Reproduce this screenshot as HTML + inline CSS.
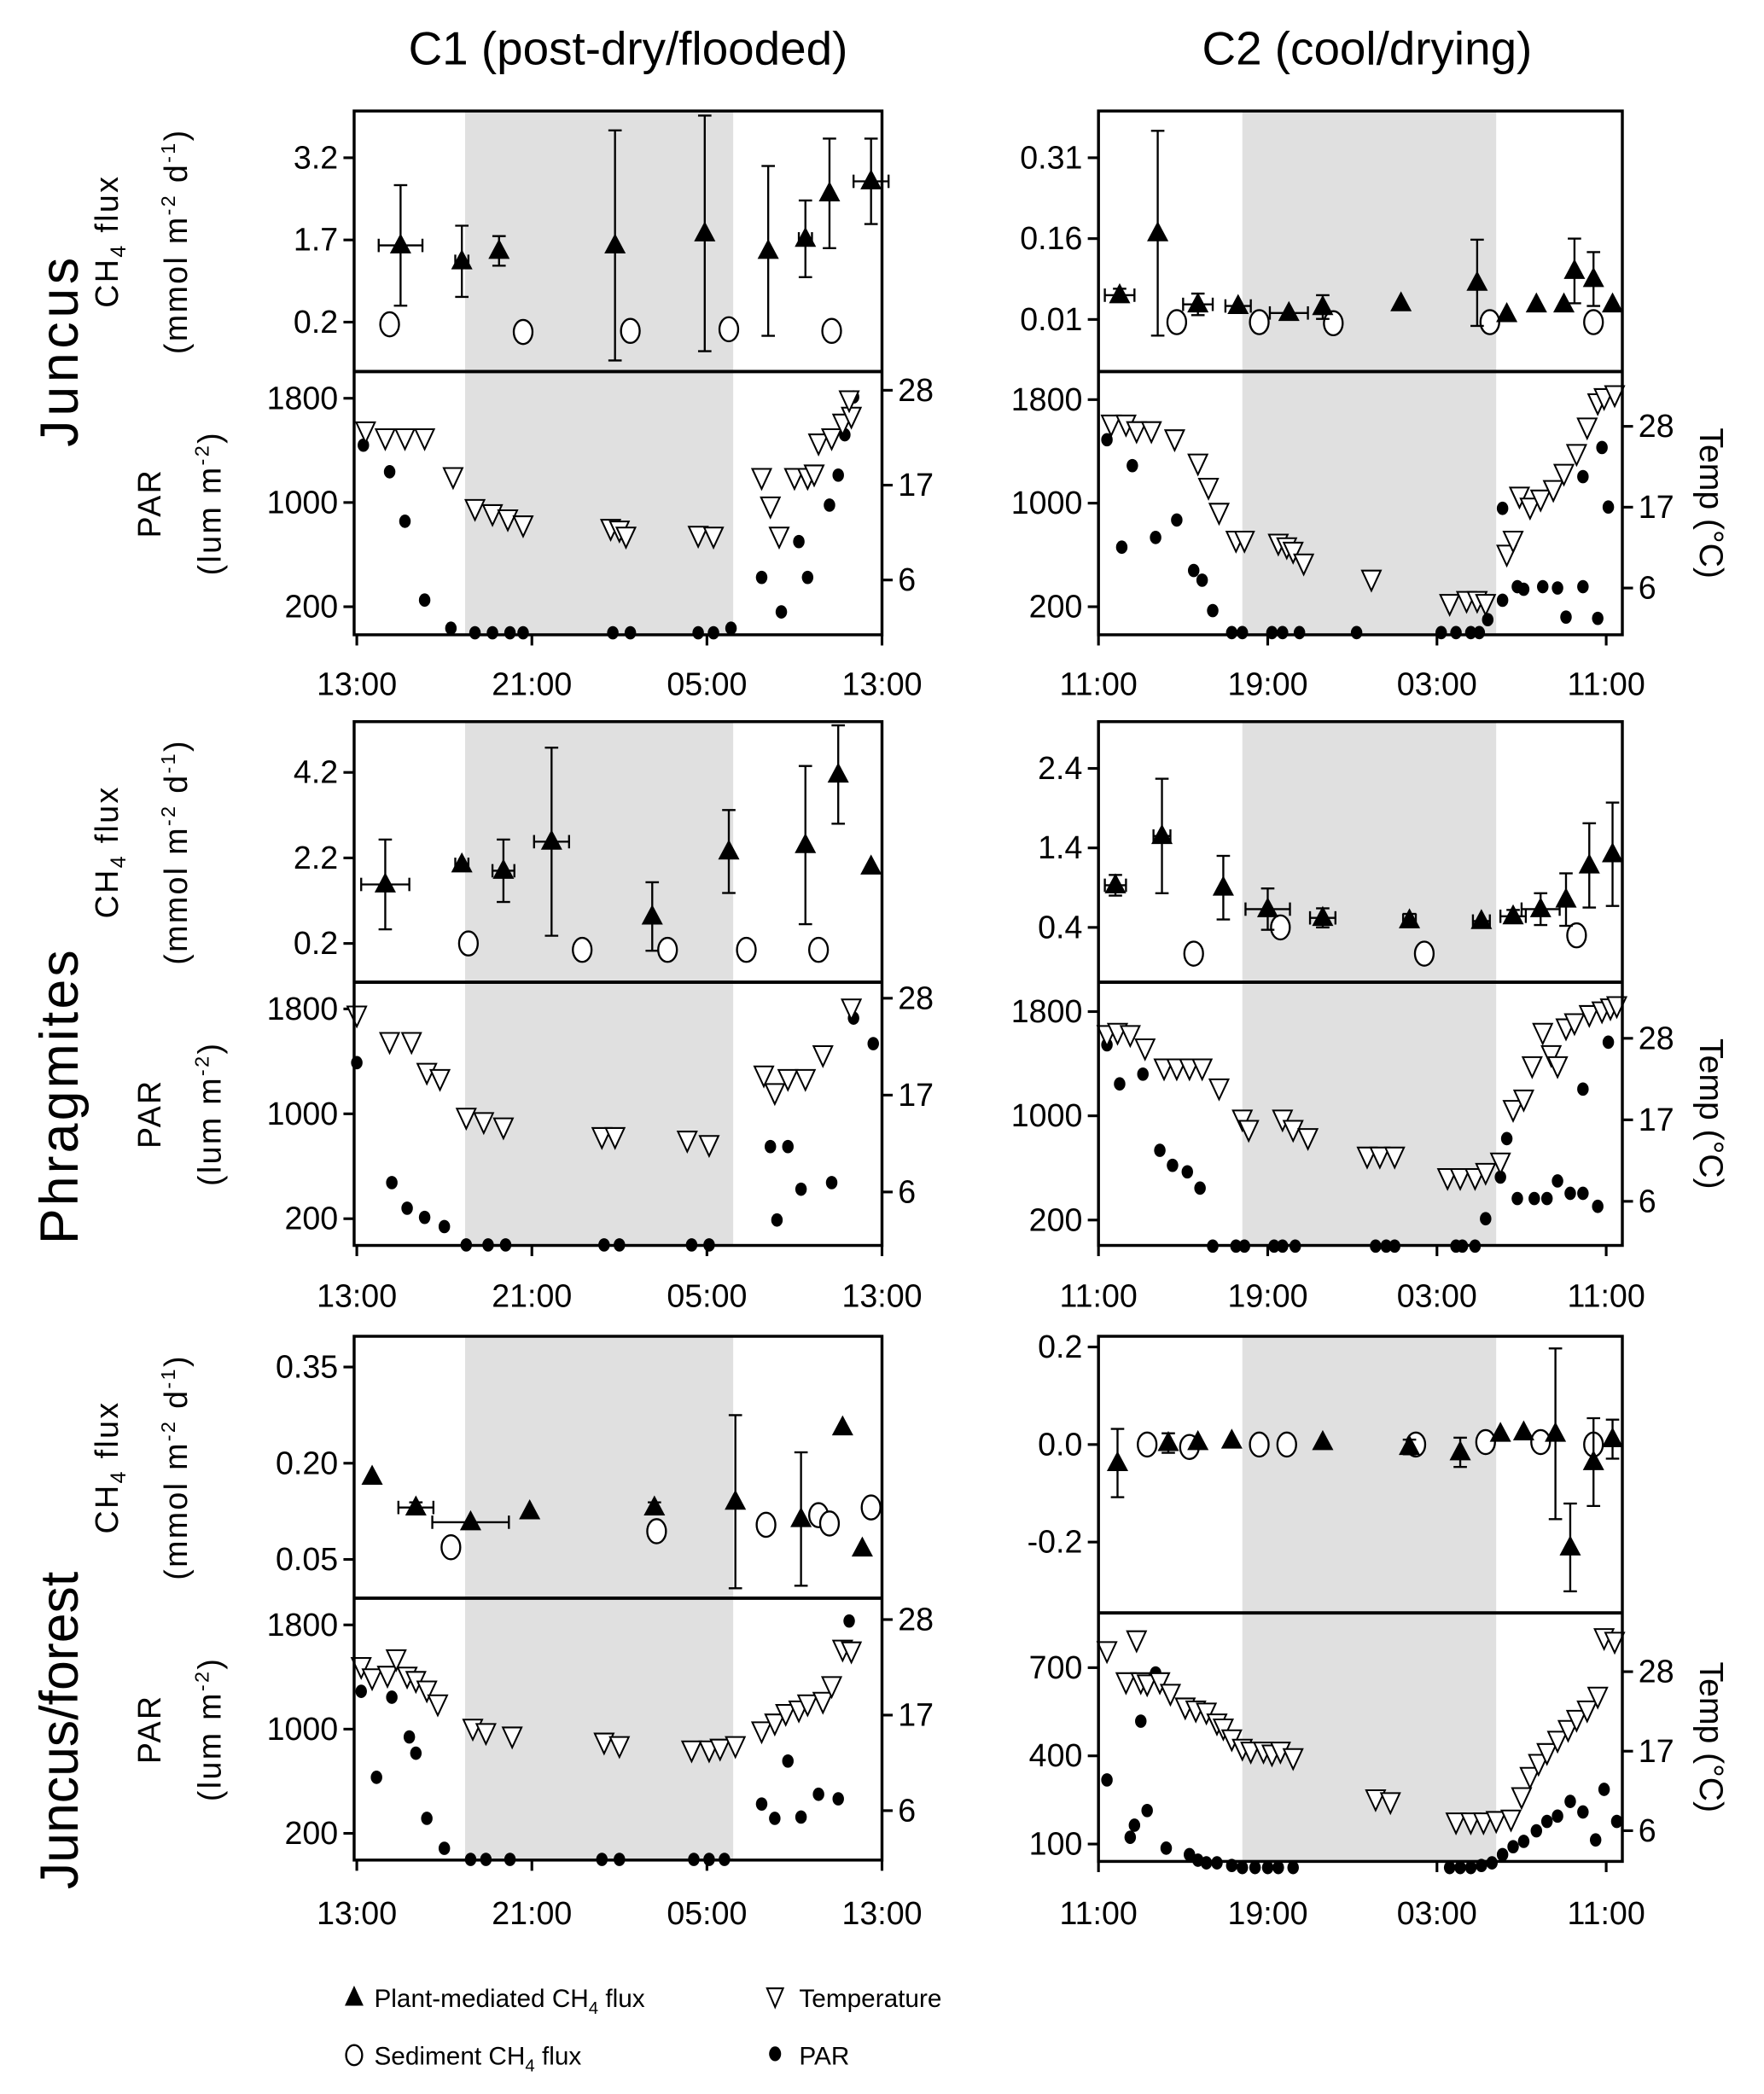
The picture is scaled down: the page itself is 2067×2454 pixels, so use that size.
<!DOCTYPE html>
<html><head><meta charset="utf-8"><style>
html,body{margin:0;padding:0;background:#fff;}
svg{display:block;font-family:"Liberation Sans",Arial,sans-serif;}
</style></head><body>
<svg id="chart" xmlns="http://www.w3.org/2000/svg" width="2067" height="2454" viewBox="0 0 1320 1567">
<rect x="0" y="0" width="1320" height="1567" fill="#fff"/>
<text x="470" y="48" font-size="35" text-anchor="middle">C1 (post-dry/flooded)</text>
<text x="1023" y="48" font-size="35" text-anchor="middle">C2 (cool/drying)</text>
<text transform="translate(58,262) rotate(-90)" font-size="40" letter-spacing="3" text-anchor="middle">Juncus</text>
<text transform="translate(58,820) rotate(-90)" font-size="40" letter-spacing="2" text-anchor="middle">Phragmites</text>
<text transform="translate(58,1295) rotate(-90)" font-size="40" text-anchor="middle">Juncus/forest</text>
<g id="legend">
<g><polygon points="265,1486 258,1501 272,1501" fill="#000"/><text x="280" y="1502" font-size="19">Plant-mediated CH<tspan font-size="13" dy="5">4</tspan><tspan dy="-5"> flux</tspan></text></g>
<g><ellipse cx="265" cy="1538" rx="6" ry="7.5" fill="#fff" stroke="#000" stroke-width="1.5"/><text x="280" y="1545" font-size="19">Sediment CH<tspan font-size="13" dy="5">4</tspan><tspan dy="-5"> flux</tspan></text></g>
<g><polygon points="580,1502 574,1488 586,1488" fill="#fff" stroke="#000" stroke-width="1.3"/><text x="598" y="1502" font-size="19">Temperature</text></g>
<g><ellipse cx="580" cy="1537" rx="4.5" ry="5.5" fill="#000"/><text x="598" y="1545" font-size="19">PAR</text></g>
</g>
</svg>
<script>
// ===== Data (hours since panel start, values in data units) =====
// Panel A: C1 Juncus
const aFluxH=[2.0,4.8,6.5,11.8,15.9,18.8,20.5,21.6,23.5];
const aFluxV=[1.6,1.31,1.5,1.6,1.82,1.5,1.72,2.55,2.77];
const aFluxE=[1.1,0.65,0.27,2.1,2.15,1.55,0.7,1.0,0.78];
const aFluxHE=[1.0,0.3,0,0,0,0,0.3,0,0.8];
const aSedH=[1.5,7.6,12.5,17.0,21.7];
const aSedV=[0.16,0.02,0.04,0.07,0.04];
const aParH=[0.3,1.5,2.2,3.1,4.3,5.4,6.2,7.0,7.6,11.7,12.5,15.6,16.3,17.1,18.5,19.4,20.2,20.6,21.6,22.0,22.3,22.7];
const aParV=[1440,1236,856,251,35,0,0,0,0,0,0,0,0,35,425,160,700,425,980,1210,1520,1810];
const aTempH=[0.4,1.3,2.2,3.1,4.4,5.4,6.2,6.9,7.6,11.6,12.0,12.3,15.6,16.3,18.5,18.9,19.3,20.0,20.6,20.9,21.1,21.7,22.2,22.6,22.5];
const aTempV=[23.2,22.4,22.4,22.4,17.9,14.2,13.6,13.0,12.3,11.9,11.7,11.0,11.1,11.0,17.8,14.5,11.0,17.8,17.8,18.2,21.8,22.4,24.1,24.9,26.8];
// Panel B: C2 Juncus
const bFluxH=[1.0,2.8,4.7,6.6,9.0,10.6,14.3,17.9,19.3,20.7,22.0,22.5,23.4,24.3];
const bFluxV=[0.055,0.17,0.038,0.035,0.022,0.033,0.04,0.078,0.02,0.038,0.038,0.1,0.085,0.038];
const bFluxE=[0.012,0.19,0.02,0,0,0.022,0,0.08,0,0,0,0.06,0.05,0];
const bFluxHE=[0.7,0,0.7,0.6,0.9,0,0,0,0,0,0,0,0,0];
const bSedH=[3.7,7.6,11.1,18.5,23.4];
const bSedV=[0.005,0.005,0.003,0.005,0.005];
const bParH=[0.4,1.1,1.6,2.7,3.7,4.5,4.9,5.4,6.3,6.8,8.2,8.7,9.5,12.2,16.2,16.9,17.6,18.0,18.4,19.1,19.1,19.8,20.1,21.0,21.7,22.1,22.9,23.6,22.9,24.1,23.8];
const bParV=[1490,660,1290,735,870,480,405,170,0,0,0,0,0,0,0,0,0,0,100,960,250,355,335,355,345,120,355,110,1205,970,1430];
const bTempH=[0.6,1.3,1.8,2.5,3.6,4.7,5.2,5.7,6.5,6.9,8.5,8.9,9.2,9.7,12.9,16.6,17.4,17.9,18.3,19.3,19.6,19.9,20.4,20.9,21.5,22.0,22.6,23.1,23.6,23.9,24.4];
const bTempV=[28.2,28.2,27.3,27.3,26.2,22.9,19.6,16.2,12.4,12.4,12.0,11.5,10.9,9.3,7.1,3.8,4.2,4.2,3.8,10.5,12.4,18.4,16.9,18.0,19.3,21.5,24.2,27.8,31.1,31.8,32.2];
// Panel C: C1 Phragmites
const cFluxH=[1.3,4.8,6.7,8.9,13.5,17.0,20.5,22.0,23.5];
const cFluxV=[1.58,2.05,1.9,2.58,0.83,2.35,2.5,4.15,2.0];
const cFluxE=[1.05,0,0.73,2.2,0.8,0.97,1.85,1.15,0];
const cFluxHE=[1.1,0.3,0.5,0.8,0,0,0,0,0];
const cSedH=[5.1,10.3,14.2,17.8,21.1];
const cSedV=[0.2,0.05,0.05,0.05,0.05];
const cParH=[0.0,1.6,2.3,3.1,4.0,5.0,6.0,6.8,11.3,12.0,15.3,16.1,18.9,19.7,19.2,20.3,21.7,22.7,23.6];
const cParV=[1390,475,280,210,140,0,0,0,0,0,0,0,750,750,190,425,475,1730,1535];
const cTempH=[0.0,1.5,2.5,3.2,3.8,5.0,5.8,6.7,11.2,11.8,15.1,16.1,18.6,19.1,19.7,20.5,21.3,22.6];
const cTempV=[26.0,23.0,23.0,19.5,18.8,14.4,13.9,13.3,12.2,12.2,11.8,11.3,19.2,17.2,18.8,18.8,21.5,26.8];
// Panel D: C2 Phragmites
const dFluxH=[0.8,3.0,5.9,8.0,10.6,14.7,18.1,19.6,20.9,22.1,23.2,24.3];
const dFluxV=[0.93,1.55,0.9,0.63,0.52,0.49,0.48,0.54,0.63,0.75,1.18,1.32];
const dFluxE=[0.13,0.72,0.4,0.26,0.12,0.08,0,0.08,0.2,0.33,0.53,0.65];
const dFluxHE=[0.5,0.4,0,1.05,0.6,0.3,0.4,0.6,0.9,0,0,0];
const dSedH=[4.5,8.6,15.4,22.6];
const dSedV=[0.07,0.4,0.07,0.3];
const dParH=[0.4,1.0,2.1,2.9,3.5,4.2,4.8,5.4,6.5,6.9,8.3,8.7,9.3,13.1,13.6,14.0,16.9,17.2,17.8,18.3,19.0,19.3,19.8,20.6,21.2,21.7,22.3,22.9,23.6,22.9,24.1];
const dParV=[1545,1245,1320,735,620,570,445,0,0,0,0,0,0,0,0,0,0,0,0,210,530,825,365,365,365,500,405,405,305,1205,1565];
const dTempH=[0.4,0.9,1.5,2.2,3.1,3.7,4.3,4.9,5.7,6.8,7.1,8.7,9.2,9.9,12.7,13.3,14.0,16.5,17.1,17.8,18.3,19.0,19.6,20.1,20.5,21.0,21.4,21.7,22.1,22.5,23.2,23.8,24.2,24.5];
const dTempV=[28.4,28.7,28.4,26.6,23.9,23.9,23.9,23.9,21.2,17.0,15.6,17.0,15.6,14.5,12.0,12.0,12.0,9.1,9.1,9.1,9.8,11.2,18.3,19.7,24.2,28.7,25.7,24.2,29.3,30.0,31.1,31.6,32.0,32.3];
// Panel E: C1 Juncus/forest
const eFluxH=[0.7,2.7,5.2,7.9,13.6,17.3,20.3,22.2,23.1];
const eFluxV=[0.179,0.131,0.108,0.125,0.131,0.14,0.113,0.256,0.067];
const eFluxE=[0,0.008,0,0,0.008,0.135,0.104,0,0];
const eFluxHE=[0,0.8,1.75,0,0,0,0,0,0];
const eSedH=[4.3,13.7,18.7,21.1,21.6,23.5];
const eSedV=[0.069,0.094,0.104,0.119,0.106,0.131];
const eParH=[0.2,0.9,1.6,2.4,2.7,3.2,4.0,5.2,5.9,7.0,11.2,12.0,15.4,16.1,16.8,18.5,19.1,19.7,20.3,21.1,22.0,22.5];
const eParV=[1290,630,1245,940,815,315,85,0,0,0,0,0,0,0,0,425,315,755,325,500,465,1830];
const eTempH=[0.2,0.7,1.4,1.8,2.3,2.7,3.2,3.7,5.3,5.9,7.1,11.3,12.0,15.3,16.1,16.6,17.3,18.5,19.1,19.6,20.2,20.6,21.3,21.7,22.2,22.6];
const eTempV=[22.5,21.2,21.5,23.4,21.4,20.9,19.8,18.2,15.4,14.9,14.5,13.8,13.4,12.9,12.9,13.1,13.4,15.1,16.0,17.1,17.5,18.2,18.5,20.3,24.5,24.3];
// Panel F: C2 Juncus/forest
const fFluxH=[0.9,3.3,4.7,6.3,10.6,14.7,17.1,19.0,20.1,21.6,22.3,23.4,24.3];
const fFluxV=[-0.038,0.003,0.005,0.008,0.005,-0.005,-0.016,0.022,0.025,0.022,-0.211,-0.036,0.011];
const fFluxE=[0.07,0.02,0,0,0,0.015,0.03,0,0,0.175,0.09,0.09,0.04];
const fFluxHE=[0,0,0,0,0,0,0,0,0,0,0,0,0];
const fSedH=[2.3,4.3,7.6,8.9,15.0,18.3,20.9,23.4];
const fSedV=[0,-0.005,0,0,0,0.005,0.005,0];
const fParH=[0.4,1.5,1.7,2.0,2.3,2.7,3.2,4.3,4.7,5.1,5.6,6.3,6.8,7.4,8.0,8.5,9.2,16.6,17.1,17.6,18.1,18.6,19.1,19.6,20.1,20.7,21.2,21.7,22.3,22.9,23.5,23.9,24.5];
const fParV=[318,123,164,518,214,682,86,64,45,36,36,27,20,20,20,20,20,20,20,20,27,36,64,91,109,145,177,195,245,209,114,286,177];
const fTempH=[0.4,1.8,1.3,2.0,2.3,2.9,3.4,4.1,4.6,5.1,5.6,5.9,6.3,6.8,7.2,7.8,8.2,8.6,9.2,13.1,13.8,16.9,17.6,18.2,18.8,19.5,20.0,20.4,20.8,21.2,21.7,22.2,22.6,23.1,23.6,23.9,24.4];
const fTempV=[30.8,32.3,26.5,26.5,26.2,26.5,24.9,23.0,22.6,22.3,20.8,20.1,18.6,17.3,16.9,16.9,16.5,16.9,16.0,10.3,9.9,7.1,7.1,7.1,7.3,7.5,10.6,13.4,15.2,16.7,18.4,19.9,21.3,22.6,24.5,32.6,32.1];
// Tick labels
const leftTimeLabels=["13:00","21:00","05:00","13:00"];
const rightTimeLabels=["11:00","19:00","03:00","11:00"];
const tempTicks=[6,17,28];

// ===== Layout =====
const NS="http://www.w3.org/2000/svg";
const svg=document.getElementById('chart');
function el(tag,attrs,parent){const e=document.createElementNS(NS,tag);for(const k in attrs)e.setAttribute(k,attrs[k]);(parent||svg).appendChild(e);return e;}
function lin(ticks,px){const t0=ticks[0],t1=ticks[ticks.length-1];return v=>px[0]+(v-t0)*(px[1]-px[0])/(t1-t0);}

const panels=[
{key:'c1-juncus',L:265,R:660,hx0:267,hw:16.375,top:83,mid:278,bot:475,shade:[4.95,17.2],right:false,times:leftTimeLabels,timeY:520,
 fluxT:[0.2,1.7,3.2],fluxLbl:["0.2","1.7","3.2"],fluxPx:[241,118],parT:[200,1000,1800],parLbl:["200","1000","1800"],parPx:[454,298],tempPx:[434,292],
 fH:aFluxH,fV:aFluxV,fE:aFluxE,fHE:aFluxHE,sH:aSedH,sV:aSedV,pH:aParH,pV:aParV,tH:aTempH,tV:aTempV},
{key:'c2-juncus',L:822,R:1214,hx0:822,hw:15.83,top:83,mid:278,bot:475,shade:[6.8,18.8],right:true,times:rightTimeLabels,timeY:520,
 fluxT:[0.01,0.16,0.31],fluxLbl:["0.01","0.16","0.31"],fluxPx:[239,118],parT:[200,1000,1800],parLbl:["200","1000","1800"],parPx:[454,299],tempPx:[440,319],
 fH:bFluxH,fV:bFluxV,fE:bFluxE,fHE:bFluxHE,sH:bSedH,sV:bSedV,pH:bParH,pV:bParV,tH:bTempH,tV:bTempV},
{key:'c1-phragmites',L:265,R:660,hx0:267,hw:16.375,top:540,mid:735,bot:932,shade:[4.95,17.2],right:false,times:leftTimeLabels,timeY:978,
 fluxT:[0.2,2.2,4.2],fluxLbl:["0.2","2.2","4.2"],fluxPx:[706,578],parT:[200,1000,1800],parLbl:["200","1000","1800"],parPx:[912,755],tempPx:[892,747],
 fH:cFluxH,fV:cFluxV,fE:cFluxE,fHE:cFluxHE,sH:cSedH,sV:cSedV,pH:cParH,pV:cParV,tH:cTempH,tV:cTempV},
{key:'c2-phragmites',L:822,R:1214,hx0:822,hw:15.83,top:540,mid:735,bot:932,shade:[6.8,18.8],right:true,times:rightTimeLabels,timeY:978,
 fluxT:[0.4,1.4,2.4],fluxLbl:["0.4","1.4","2.4"],fluxPx:[694,575],parT:[200,1000,1800],parLbl:["200","1000","1800"],parPx:[913,757],tempPx:[899,777],
 fH:dFluxH,fV:dFluxV,fE:dFluxE,fHE:dFluxHE,sH:dSedH,sV:dSedV,pH:dParH,pV:dParV,tH:dTempH,tV:dTempV},
{key:'c1-juncus-forest',L:265,R:660,hx0:267,hw:16.375,top:1000,mid:1196,bot:1392,shade:[4.95,17.2],right:false,times:leftTimeLabels,timeY:1440,
 fluxT:[0.05,0.20,0.35],fluxLbl:["0.05","0.20","0.35"],fluxPx:[1167,1023],parT:[200,1000,1800],parLbl:["200","1000","1800"],parPx:[1372,1216],tempPx:[1355,1212],
 fH:eFluxH,fV:eFluxV,fE:eFluxE,fHE:eFluxHE,sH:eSedH,sV:eSedV,pH:eParH,pV:eParV,tH:eTempH,tV:eTempV},
{key:'c2-juncus-forest',L:822,R:1214,hx0:822,hw:15.83,top:1000,mid:1207,bot:1393,shade:[6.8,18.8],right:true,times:rightTimeLabels,timeY:1440,
 fluxT:[-0.2,0.0,0.2],fluxLbl:["-0.2","0.0","0.2"],fluxPx:[1154,1008],parT:[100,400,700],parLbl:["100","400","700"],parPx:[1380,1248],tempPx:[1370,1251],
 fH:fFluxH,fV:fFluxV,fE:fFluxE,fHE:fFluxHE,sH:fSedH,sV:fSedV,pH:fParH,pV:fParV,tH:fTempH,tV:fTempV}
];

panels.forEach(p=>{
  const g=el('g',{});
  
  
  const x=h=>p.hx0+h*p.hw;
  const yF=lin(p.fluxT,p.fluxPx), yP=lin(p.parT,p.parPx), yT=lin(tempTicks,p.tempPx);
  const sh=el('rect',{x:x(p.shade[0]),y:p.top,width:x(p.shade[1])-x(p.shade[0]),height:p.bot-p.top,fill:'#e0e0e0'},g);
  
  
  p.fluxT.forEach((t,i)=>{
    const yy=yF(t);
    el('line',{x1:p.L-8,x2:p.L,y1:yy,y2:yy,stroke:'#000','stroke-width':2},g);
    const tx=el('text',{x:p.L-12,y:yy+8,'font-size':24,'text-anchor':'end'},g);
    tx.textContent=p.fluxLbl[i];
    
    
  });
  p.parT.forEach((t,i)=>{
    const yy=yP(t);
    el('line',{x1:p.L-8,x2:p.L,y1:yy,y2:yy,stroke:'#000','stroke-width':2},g);
    const tx=el('text',{x:p.L-12,y:yy+8,'font-size':24,'text-anchor':'end'},g);
    tx.textContent=p.parLbl[i];
    
    
  });
  tempTicks.forEach(t=>{
    const yy=yT(t);
    el('line',{x1:p.R,x2:p.R+8,y1:yy,y2:yy,stroke:'#000','stroke-width':2},g);
    const tx=el('text',{x:p.R+12,y:yy+8,'font-size':24,'text-anchor':'start'},g);
    tx.textContent=String(t);
    
    
  });
  p.times.forEach((lb,i)=>{
    const xx=x(i*8);
    el('line',{x1:xx,x2:xx,y1:p.bot,y2:p.bot+8,stroke:'#000','stroke-width':2},g);
    const tx=el('text',{x:xx,y:p.timeY,'font-size':24,'text-anchor':'middle'},g);
    tx.textContent=lb;
    
    
  });
  p.pH.forEach((h,i)=>{
    const c=el('ellipse',{cx:x(h),cy:yP(p.pV[i]),rx:4.3,ry:5,fill:'#000'},g);
    
    
  });
  p.tH.forEach((h,i)=>{
    const cx=x(h),cy=yT(p.tV[i]);
    const t=el('polygon',{points:`${cx-7},${cy-7} ${cx+7},${cy-7} ${cx},${cy+8}`,fill:'#fff',stroke:'#000','stroke-width':1.3},g);
    
    
  });
  p.sH.forEach((h,i)=>{
    const c=el('ellipse',{cx:x(h),cy:yF(p.sV[i]),rx:7,ry:9,fill:'#fff',stroke:'#000','stroke-width':1.5},g);
    
    
  });
  p.fH.forEach((h,i)=>{
    const cx=x(h),cy=yF(p.fV[i]);
    const e=p.fE[i];
    if(e>0){
      const y1=yF(p.fV[i]+e),y2=yF(p.fV[i]-e);
      el('line',{x1:cx,x2:cx,y1:y1,y2:y2,stroke:'#000','stroke-width':1.5},g);
      el('line',{x1:cx-5,x2:cx+5,y1:y1,y2:y1,stroke:'#000','stroke-width':1.5},g);
      el('line',{x1:cx-5,x2:cx+5,y1:y2,y2:y2,stroke:'#000','stroke-width':1.5},g);
    }
    const he=p.fHE[i];
    if(he>0){
      const x1=x(h-he),x2=x(h+he);
      el('line',{x1:x1,x2:x2,y1:cy,y2:cy,stroke:'#000','stroke-width':1.5},g);
      el('line',{x1:x1,x2:x1,y1:cy-5,y2:cy+5,stroke:'#000','stroke-width':1.5},g);
      el('line',{x1:x2,x2:x2,y1:cy-5,y2:cy+5,stroke:'#000','stroke-width':1.5},g);
    }
    const t=el('polygon',{points:`${cx},${cy-9} ${cx-8},${cy+6} ${cx+8},${cy+6}`,fill:'#000'},g);
    
    
  });
  el('rect',{x:p.L,y:p.top,width:p.R-p.L,height:p.bot-p.top,fill:'none',stroke:'#000','stroke-width':2.2},g);
  el('line',{x1:p.L,x2:p.R,y1:p.mid,y2:p.mid,stroke:'#000','stroke-width':2.5},g);
  const fc=(p.top+p.mid)/2, pc=(p.mid+p.bot)/2;
  if(!p.right){
    const t1=el('text',{transform:`translate(88,${fc}) rotate(-90)`,'font-size':24,'text-anchor':'middle','letter-spacing':'1.5'},g);
    t1.innerHTML='CH<tspan font-size="16" dy="6">4</tspan><tspan dy="-6"> flux</tspan>';
    
    
    const t2=el('text',{transform:`translate(140,${fc}) rotate(-90)`,'font-size':24,'text-anchor':'middle','letter-spacing':'1.5'},g);
    t2.innerHTML='(mmol  m<tspan font-size="15" dy="-9">-2</tspan><tspan dy="9"> d</tspan><tspan font-size="15" dy="-9">-1</tspan><tspan dy="9">)</tspan>';
    
    
    const t3=el('text',{transform:`translate(120,${pc}) rotate(-90)`,'font-size':24,'text-anchor':'middle','letter-spacing':'1.5'},g);
    t3.textContent='PAR';
    
    
    const t4=el('text',{transform:`translate(165,${pc}) rotate(-90)`,'font-size':24,'text-anchor':'middle','letter-spacing':'1.5'},g);
    t4.innerHTML='(lum m<tspan font-size="15" dy="-9">-2</tspan><tspan dy="9">)</tspan>';
    
    
  } else {
    const t5=el('text',{transform:`translate(1272,${pc}) rotate(90)`,'font-size':25,'text-anchor':'middle'},g);
    t5.textContent='Temp (°C)';
    
    
  }
});
</script>
</body></html>
